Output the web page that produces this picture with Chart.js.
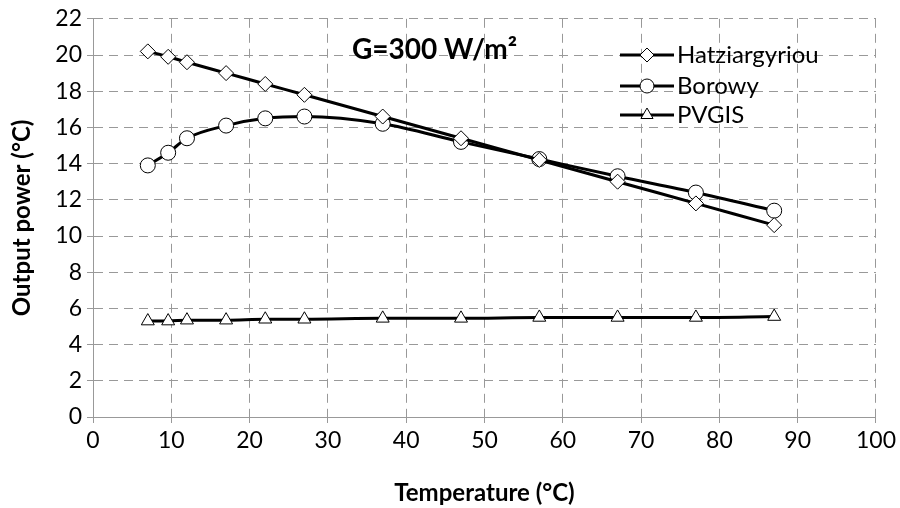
<!DOCTYPE html>
<html>
<head>
<meta charset="utf-8">
<script src="https://cdn.jsdelivr.net/npm/chart.js@4.4.0/dist/chart.umd.min.js"></script>
<style>
  html, body { margin: 0; padding: 0; background: #fff; }
  #wrap { width: 900px; height: 508px; position: relative; }
</style>
</head>
<body>
<div id="wrap"><canvas id="chart" width="900" height="508"></canvas></div>
<script>
// temperatures (°C) at which each model was evaluated
var temps = [7, 9.6, 12, 17, 22, 27, 37, 47, 57, 67, 77, 87];
var hatziargyriou = [20.2, 19.9, 19.6, 19.0, 18.4, 17.8, 16.6, 15.4, 14.2, 13.0, 11.8, 10.6];
var borowy = [13.9, 14.6, 15.4, 16.1, 16.5, 16.6, 16.2, 15.2, 14.25, 13.3, 12.4, 11.4];
var pvgis = [5.3, 5.3, 5.35, 5.35, 5.4, 5.4, 5.45, 5.45, 5.5, 5.5, 5.5, 5.55];
var seriesNames = ['Hatziargyriou', 'Borowy', 'PVGIS'];
var markerStyles = ['rectRot', 'circle', 'triangle'];
var annotation = 'G=300 W/m²';

var FONT = "Lato, 'Open Sans', sans-serif";

function toPoints(xs, ys) {
    var out = [];
    for (var i = 0; i < Math.min(xs.length, ys.length); i++) {
        out.push({x: xs[i], y: ys[i]});
    }
    return out;
}

function makeSet(i, ys, tension) {
    return {
        label: seriesNames[i],
        data: toPoints(temps, ys),
        borderColor: '#000',
        borderWidth: 3,
        backgroundColor: '#fff',
        pointStyle: markerStyles[i],
        pointRadius: 7.5,
        pointBorderColor: '#000',
        pointBorderWidth: 1,
        pointBackgroundColor: '#fff',
        tension: tension,
        cubicInterpolationMode: 'monotone',
        showLine: true,
        fill: false
    };
}

// legend inside the plot + the irradiance note, drawn on the canvas
var extras = {
    id: 'extras',
    afterDraw: function(chart) {
        var ctx = chart.ctx;
        ctx.save();
        ctx.fillStyle = '#000';
        ctx.font = 'bold 28px ' + FONT;
        ctx.textBaseline = 'middle';
        ctx.textAlign = 'left';
        ctx.fillText(annotation, 352, 50);

        var rows = [55, 86, 115];
        ctx.font = '24px ' + FONT;
        chart.data.datasets.forEach(function(ds, i) {
            var y = rows[i];
            ctx.strokeStyle = '#000';
            ctx.lineWidth = 3;
            ctx.beginPath();
            ctx.moveTo(620, y);
            ctx.lineTo(674, y);
            ctx.stroke();
            ctx.fillStyle = '#fff';
            ctx.lineWidth = 1;
            Chart.helpers.drawPoint(ctx, {pointStyle: ds.pointStyle, radius: 7, borderWidth: 1}, 647, y);
            ctx.fillStyle = '#000';
            ctx.fillText(ds.label, 677, y);
        });
        ctx.restore();
    }
};

var tickFont = {family: FONT, size: 23};
var titleFont = {family: FONT, size: 24, weight: 'bold'};

new Chart(document.getElementById('chart'), {
    type: 'scatter',
    data: {
        datasets: [
            makeSet(0, hatziargyriou, 0),
            makeSet(1, borowy, 0.4),
            makeSet(2, pvgis, 0)
        ]
    },
    options: {
        responsive: false,
        animation: false,
        layout: {padding: {top: 8, right: 23, left: 0, bottom: 0}},
        plugins: {legend: {display: false}, tooltip: {enabled: false}},
        scales: {
            x: {
                type: 'linear', min: 0, max: 100,
                ticks: {stepSize: 10, color: '#000', font: tickFont, padding: 4},
                grid: {color: '#999', lineWidth: 1, tickLength: 6, tickColor: '#999', tickBorderDash: []},
                border: {color: '#999', dash: [9, 6]},
                title: {display: true, text: 'Temperature (°C)', color: '#000', font: titleFont, padding: {top: 21, bottom: 0}},
                afterFit: function(s) { s.height = 91; }
            },
            y: {
                min: 0, max: 22,
                ticks: {stepSize: 2, color: '#000', font: tickFont, padding: 5},
                grid: {color: '#999', lineWidth: 1, tickLength: 6, tickColor: '#999', tickBorderDash: []},
                border: {color: '#999', dash: [9, 6]},
                title: {display: true, text: 'Output power (°C)', color: '#000', font: titleFont, padding: {top: 8, bottom: 0}},
                afterFit: function(s) { s.width = 93; }
            }
        }
    },
    plugins: [extras]
});
</script>
</body>
</html>
